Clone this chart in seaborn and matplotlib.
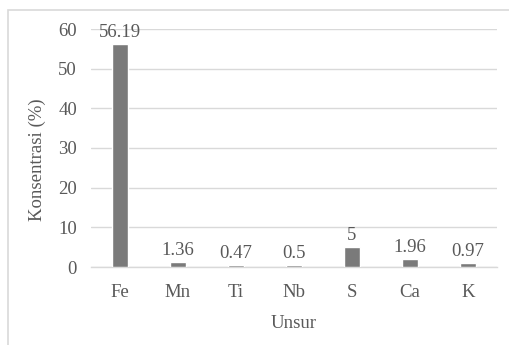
import matplotlib
matplotlib.use("Agg")
import matplotlib.pyplot as plt
import seaborn as sns
import pandas as pd
from matplotlib.patches import Rectangle

unsur = ["Fe", "Mn", "Ti", "Nb", "S", "Ca", "K"]
konsentrasi = [56.19, 1.36, 0.47, 0.5, 5, 1.96, 0.97]
label_nilai = ["56.19", "1.36", "0.47", "0.5", "5", "1.96", "0.97"]
y_ticks = [0, 10, 20, 30, 40, 50, 60]

df = pd.DataFrame({"Unsur": unsur, "Konsentrasi": konsentrasi})

sns.set_theme(style="white")
plt.rcParams["font.family"] = ["Liberation Serif", "DejaVu Serif"]
text_color = "#595959"
fs = 13.5

fig = plt.figure(figsize=(5.1, 3.45), dpi=100)
fig.patches.append(Rectangle((8 / 510, -0.1), 1.2, 1 - 10 / 345 + 0.1,
                             transform=fig.transFigure, fill=False,
                             edgecolor="#d9d9d9", linewidth=1.2, zorder=0))
ax = fig.add_axes([91 / 510, 1 - 267 / 345, (497 - 91) / 510, (267 - 29) / 345])

sns.barplot(data=df, x="Unsur", y="Konsentrasi", color="#7a7a7a",
            width=0.28, saturation=1, ax=ax, zorder=3)

ax.set_ylim(0, 60)
ax.set_yticks(y_ticks)
ax.yaxis.grid(True, color="#d9d9d9", linewidth=1)
ax.set_axisbelow(True)
for s in ["top", "right", "left"]:
    ax.spines[s].set_visible(False)
ax.spines["bottom"].set_color("#d9d9d9")
ax.spines["bottom"].set_linewidth(1)
ax.tick_params(axis="both", length=0, labelsize=fs, colors=text_color)
ax.tick_params(axis="y", pad=10)
ax.tick_params(axis="x", pad=12)

for p, lab in zip(ax.patches, label_nilai):
    ax.annotate(lab, (p.get_x() + p.get_width() / 2, p.get_height()),
                xytext=(0, 2), textcoords="offset points",
                ha="center", va="bottom", fontsize=fs, color=text_color,
                annotation_clip=False)

ax.set_xlabel("Unsur", fontsize=fs, color=text_color, labelpad=10)
ax.set_ylabel("Konsentrasi (%)", fontsize=fs, color=text_color, labelpad=9)
ax.yaxis.label.set_y(0.45)

fig.savefig("out.png", dpi=100)
